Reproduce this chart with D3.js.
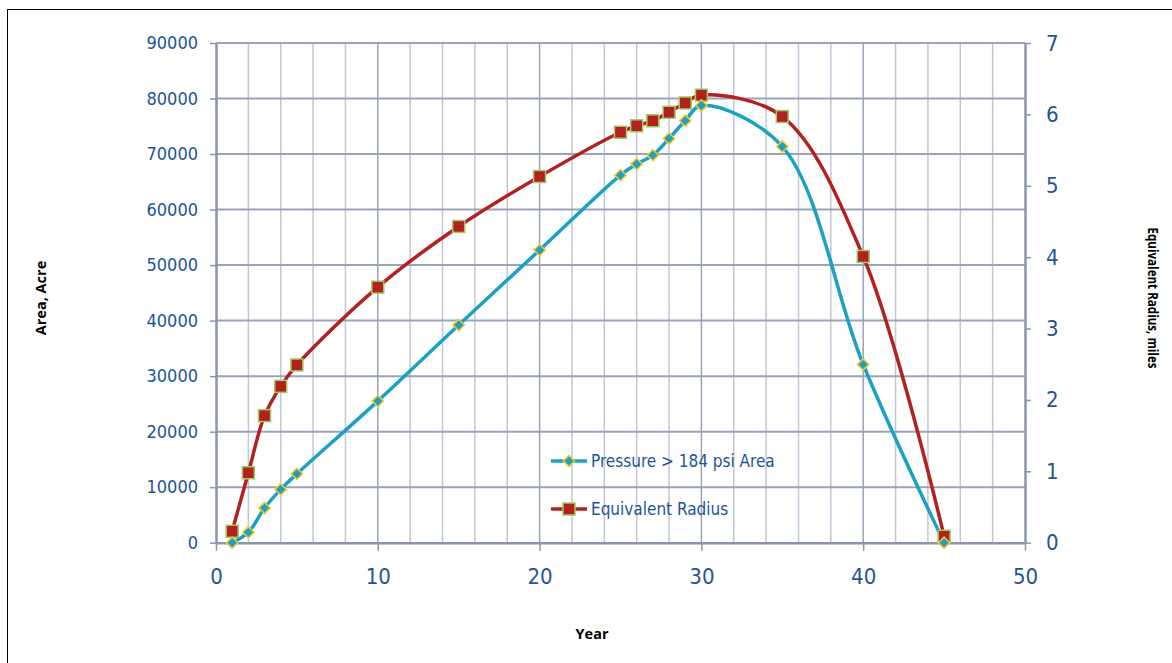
<!DOCTYPE html>
<html>
<head>
<meta charset="utf-8">
<title>Area and Equivalent Radius</title>
<script src="https://d3js.org/d3.v7.min.js"></script>
<style>
    body { margin: 0; background: #fff; }
    .tick text { font-family: "Liberation Sans Narrow", "DejaVu Sans Condensed", sans-serif; fill: #1d5596; }
    .axis-title { font-family: "Open Sans", "Liberation Sans", sans-serif; font-weight: bold; font-size: 14.5px; fill: #000; }
    .legend text { font-family: "Liberation Sans Narrow", "DejaVu Sans Condensed", sans-serif; font-size: 17px; fill: #1d5596; }
</style>
</head>
<body>
<div id="chart"></div>
<script>
// years
var years = [1, 2, 3, 4, 5, 10, 15, 20, 25, 26, 27, 28, 29, 30, 35, 40, 45];
// area with pressure > 184 psi, acres (left axis)
var areaAcre = [0, 1870, 6250, 9600, 12400, 25500, 39200, 52700, 66200, 68200, 69800, 72800, 76000, 78750, 71350, 32100, 0];
// equivalent radius, miles (right axis)
var radiusMiles = [0.16, 0.98, 1.78, 2.19, 2.49, 3.58, 4.43, 5.13, 5.75, 5.84, 5.91, 6.03, 6.16, 6.27, 5.97, 4.01, 0.09];

var leftTicks = [0, 10000, 20000, 30000, 40000, 50000, 60000, 70000, 80000, 90000];
var rightTicks = [0, 1, 2, 3, 4, 5, 6, 7];
var xTicks = [0, 10, 20, 30, 40, 50];
var xMinorGrid = d3.range(0, 51, 2);

var seriesNames = ["Pressure > 184 psi Area", "Equivalent Radius"];

var W = 1172, H = 663;
var svg = d3.select("#chart").append("svg")
    .attr("width", W)
    .attr("height", H);

// outer frame
svg.append("rect")
    .attr("x", 7.5).attr("y", 9.5)
    .attr("width", 1300).attr("height", 800)
    .attr("fill", "none").attr("stroke", "#000").attr("stroke-width", 1);

var x = d3.scaleLinear().domain([0, 50]).range([216, 1025]);
var yL = d3.scaleLinear().domain([0, 90000]).range([542.7, 43]);
var yR = d3.scaleLinear().domain([0, 7]).range([542.7, 43]);

// vertical grid, every 2 years (lighter), every 10 years darker
svg.append("g").selectAll("line")
    .data(xMinorGrid.filter(function (d) { return d % 10 != 0; }))
    .enter().append("line")
    .attr("x1", function (d) { return x(d); }).attr("x2", function (d) { return x(d); })
    .attr("y1", yL(90000)).attr("y2", yL(0))
    .attr("stroke", "#c2c6d7").attr("stroke-width", 1.5);

svg.append("g").selectAll("line")
    .data(xTicks.filter(function (d) { return d > 0 && d < 50; }))
    .enter().append("line")
    .attr("x1", function (d) { return x(d); }).attr("x2", function (d) { return x(d); })
    .attr("y1", yL(90000)).attr("y2", yL(0))
    .attr("stroke", "#9ba3b9").attr("stroke-width", 1.5);

// horizontal grid
svg.append("g").selectAll("line")
    .data(leftTicks.filter(function (d) { return d > 0; }))
    .enter().append("line")
    .attr("x1", x(0)).attr("x2", x(50))
    .attr("y1", function (d) { return yL(d); }).attr("y2", function (d) { return yL(d); })
    .attr("stroke", "#9ba3b9").attr("stroke-width", 2);

// axes
function styleAxis(g, size) {
    g.select(".domain").attr("stroke", "#8a94ad").attr("stroke-width", 2.5);
    g.selectAll(".tick line").attr("stroke", "#8a94ad").attr("stroke-width", 1.5);
    g.selectAll(".tick text").style("font-size", size + "px");
}

var gL = svg.append("g")
    .attr("transform", "translate(" + x(0) + ",0)")
    .call(d3.axisLeft(yL).tickValues(leftTicks).tickSize(6).tickSizeOuter(0).tickPadding(12).tickFormat(d3.format("d")));
styleAxis(gL, 18);

var gR = svg.append("g")
    .attr("transform", "translate(" + x(50) + ",0)")
    .call(d3.axisRight(yR).tickValues(rightTicks).tickSize(6).tickSizeOuter(0).tickPadding(15).tickFormat(d3.format("d")));
styleAxis(gR, 22);

var gX = svg.append("g")
    .attr("transform", "translate(0," + yL(0) + ")")
    .call(d3.axisBottom(x).tickValues(xTicks).tickSize(8).tickSizeOuter(0).tickPadding(18).tickFormat(d3.format("d")));
styleAxis(gX, 22);

// axis titles
svg.append("text").attr("class", "axis-title")
    .attr("transform", "translate(46,298) rotate(-90)")
    .attr("text-anchor", "middle").text("Area, Acre");
svg.append("text").attr("class", "axis-title")
    .attr("transform", "translate(1148,298) rotate(90)")
    .attr("text-anchor", "middle").attr("textLength", 141).attr("lengthAdjust", "spacingAndGlyphs")
    .text("Equivalent Radius, miles");
svg.append("text").attr("class", "axis-title")
    .attr("x", 592).attr("y", 639)
    .attr("text-anchor", "middle").text("Year");

var blue = "#1ba1c6", red = "#b3211f";
var areaData = years.map(function (d, i) { return { x: d, y: areaAcre[i] }; });
var radiusData = years.map(function (d, i) { return { x: d, y: radiusMiles[i] }; });

var areaLine = d3.line()
    .x(function (d) { return x(d.x); })
    .y(function (d) { return yL(d.y); })
    .curve(d3.curveCatmullRom);
var radiusLine = d3.line()
    .x(function (d) { return x(d.x); })
    .y(function (d) { return yR(d.y); })
    .curve(d3.curveCatmullRom);

svg.append("path").datum(areaData)
    .attr("fill", "none").attr("stroke", blue).attr("stroke-width", 3.5)
    .attr("d", areaLine);

svg.append("path").datum(radiusData)
    .attr("fill", "none").attr("stroke", red).attr("stroke-width", 3.5)
    .attr("d", radiusLine);

function diamond(g, cx, cy) {
    g.append("rect")
        .attr("x", -4).attr("y", -4).attr("width", 8).attr("height", 8)
        .attr("transform", "translate(" + cx + "," + cy + ") rotate(45)")
        .attr("fill", blue).attr("stroke", "#f8c722").attr("stroke-width", 1.5);
}
function square(g, cx, cy) {
    g.append("rect")
        .attr("x", cx - 6).attr("y", cy - 6).attr("width", 12).attr("height", 12)
        .attr("fill", red).attr("stroke", "#9ccc65").attr("stroke-width", 1.5);
}

var gm = svg.append("g");
radiusData.forEach(function (d) { square(gm, x(d.x), yR(d.y)); });
var gd = svg.append("g");
areaData.forEach(function (d) { diamond(gd, x(d.x), yL(d.y)); });

// legend
var lg = svg.append("g").attr("class", "legend");
[0, 1].forEach(function (i) {
    var ly = 461 + i * 48;
    var col = i == 0 ? blue : red;
    lg.append("line").attr("x1", 551).attr("x2", 587).attr("y1", ly).attr("y2", ly)
        .attr("stroke", col).attr("stroke-width", 3.5);
    if (i == 0) diamond(lg, 569, ly); else square(lg, 569, ly);
    lg.append("text").attr("x", 591).attr("y", ly + 6).text(seriesNames[i]);
});
</script>
</body>
</html>
